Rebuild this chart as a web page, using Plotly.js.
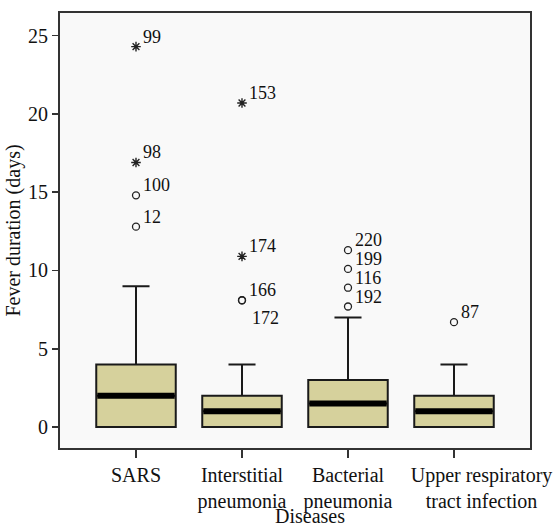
<!DOCTYPE html>
<html>
<head>
<meta charset="utf-8">
<script src="https://cdn.plot.ly/plotly-3.0.1.min.js"></script>
<style>html,body{margin:0;padding:0;background:#fff;}#chart{width:554px;height:528px;}</style>
</head>
<body>
<div id="chart"></div>
<script>
// Categories and box statistics (days)
var categories = ["SARS", "Interstitial<br>pneumonia", "Bacterial<br>pneumonia", "Upper respiratory<br>tract infection"];
var q1Values = [0, 0, 0, 0];
var medianValues = [2, 1, 1.5, 1];
var q3Values = [4, 2, 3, 2];
var lowerWhisker = [0, 0, 0, 0];
var upperWhisker = [9, 4, 7, 4];

// Outliers (circles): category index, value, case label
var circleCat = [0, 0, 1, 1, 2, 2, 2, 2, 3];
var circleVal = [12.8, 14.8, 8.1, 8.1, 11.3, 10.1, 8.9, 7.7, 6.7];
var circleLabel = ["12", "100", "166", "172", "220", "199", "116", "192", "87"];

// Extreme values (asterisks)
var starCat = [0, 0, 1, 1];
var starVal = [24.3, 16.9, 20.7, 10.9];
var starLabel = ["99", "98", "153", "174"];

var boxHalf = 0.375;
var fillColor = "#d6d19c";
var serif = "'Liberation Serif', 'Times New Roman', serif";

var xs = categories.map(function(c, i){ return i; });

var traces = [];
traces.push({
  type: "box",
  x: xs,
  q1: q1Values,
  median: medianValues,
  q3: q3Values,
  lowerfence: lowerWhisker,
  upperfence: upperWhisker,
  width: boxHalf * 2,
  whiskerwidth: 0.34,
  fillcolor: fillColor,
  line: {color: "#1a1a1a", width: 2},
  boxpoints: false,
  hoverinfo: "skip",
  showlegend: false
});

// thick median bands
var mx = [], my = [];
medianValues.forEach(function(m, i){
  mx.push(i - boxHalf + 0.01, i + boxHalf - 0.01, null);
  my.push(m, m, null);
});
traces.push({
  type: "scatter", mode: "lines", x: mx, y: my,
  line: {color: "#000", width: 6}, showlegend: false, hoverinfo: "skip"
});

traces.push({
  type: "scatter", mode: "markers",
  x: circleCat, y: circleVal,
  marker: {symbol: "circle-open", size: 7, color: "#222", line: {width: 1.3, color: "#222"}},
  showlegend: false, hoverinfo: "skip", cliponaxis: false
});
traces.push({
  type: "scatter", mode: "markers",
  x: starCat, y: starVal,
  marker: {symbol: "asterisk-open", size: 8, color: "#222", line: {width: 1.4, color: "#222"}},
  showlegend: false, hoverinfo: "skip", cliponaxis: false
});

var annotations = [];
function addLabels(cats, vals, labels){
  labels.forEach(function(l, i){
    var below = (l === "172");
    annotations.push({
      x: cats[i], y: vals[i], xref: "x", yref: "y", text: l, showarrow: false,
      xanchor: "left", yanchor: "middle",
      xshift: below ? 8 : 5, yshift: below ? -18 : 10,
      font: {family: serif, size: 18, color: "#111"}
    });
  });
}
addLabels(circleCat, circleVal, circleLabel);
addLabels(starCat, starVal, starLabel);

annotations.push({
  text: "Diseases", xref: "paper", yref: "paper",
  x: 0.532, y: 0, yshift: -68, xanchor: "center", yanchor: "middle",
  showarrow: false, font: {family: serif, size: 20, color: "#111"}
});

var pad = "\u00a0\u00a0\u00a0\u00a0\u00a0\u00a0\u00a0\u00a0\u00a0\u00a0\u00a0";
var tickText = categories.map(function(c, i){
  if (i === 3) return c.split("<br>").map(function(s){ return pad + s; }).join("<br>");
  return c;
});

var layout = {
  width: 554, height: 528,
  margin: {l: 60, r: 24, t: 13, b: 80},
  paper_bgcolor: "#ffffff",
  plot_bgcolor: "#f9f9f9",
  font: {family: serif, size: 20, color: "#111"},
  showlegend: false,
  xaxis: {
    range: [-0.717, 3.717],
    tickvals: xs, ticktext: tickText, tickangle: 0,
    ticks: "outside", ticklen: 8, tickwidth: 1.5, tickcolor: "#333",
    showline: true, mirror: true, linecolor: "#333", linewidth: 2,
    showgrid: false, zeroline: false,
    tickfont: {family: serif, size: 20, color: "#111"}
  },
  yaxis: {
    range: [-1.34, 26.45],
    tickvals: [0, 5, 10, 15, 20, 25],
    ticks: "outside", ticklen: 6, tickwidth: 1.5, tickcolor: "#333",
    showline: true, mirror: true, linecolor: "#333", linewidth: 2,
    showgrid: false, zeroline: false,
    tickfont: {family: serif, size: 20, color: "#111"},
    title: {text: "Fever duration (days)", font: {family: serif, size: 20, color: "#111"}, standoff: 2}
  },
  annotations: annotations
};

Plotly.newPlot("chart", traces, layout, {displayModeBar: false, staticPlot: true});
</script>
</body>
</html>
